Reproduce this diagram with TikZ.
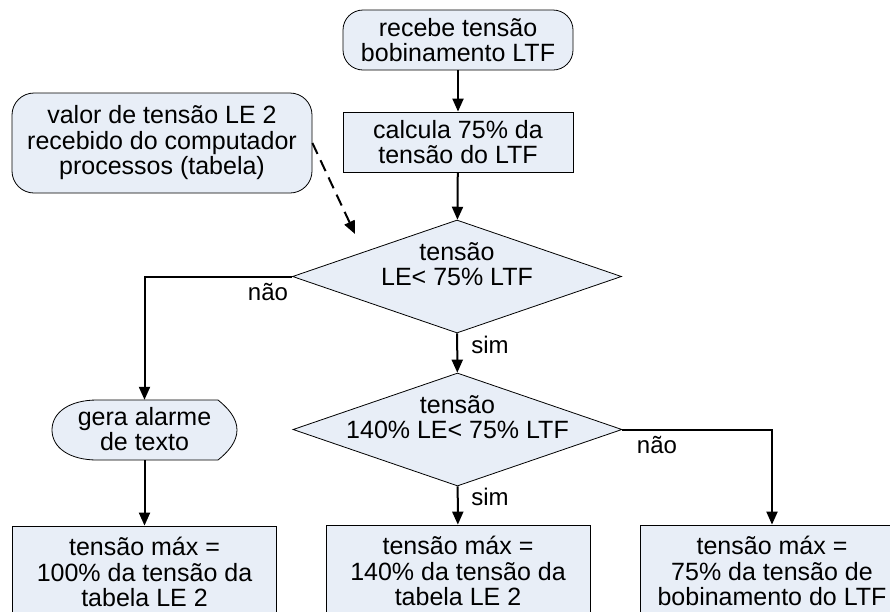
\documentclass[tikz,border=0pt]{standalone}
\usepackage{fontspec}
\setmainfont{Liberation Sans}
\usetikzlibrary{shapes.geometric,arrows.meta}
\definecolor{boxfill}{RGB}{232,238,247}
\tikzset{
  base/.style={draw=black, line width=0.8pt, fill=boxfill, inner sep=0pt, align=center,
    font=\fontsize{25}{25.5}\selectfont},
  procbox/.style={base, rectangle, minimum width=230pt, minimum height=60pt},
  termbox/.style={base, rectangle, rounded corners=20pt, minimum width=230pt, minimum height=60pt},
  notebox/.style={base, rectangle, rounded corners=22pt, minimum width=300pt, minimum height=100pt},
  resbox/.style={base, rectangle, minimum width=264pt, minimum height=92pt},
  decbox/.style={base, diamond, minimum width=329pt, minimum height=113pt},
  txt/.style={inner sep=0pt, align=center, font=\fontsize{25}{25.5}\selectfont},
  lbl/.style={inner sep=0pt, font=\fontsize{24}{25}\selectfont},
  conn/.style={line width=2pt, -{Triangle[length=13pt,width=11pt]}},
  dconn/.style={line width=2pt, dash pattern=on 12pt off 7pt, -{Triangle[length=13pt,width=11pt]}},
}
\begin{document}
\begin{tikzpicture}[x=1pt,y=-1pt]
\path[use as bounding box, clip] (0,0) rectangle (890,611);
\fill[white] (0,0) rectangle (890,611);

\node[termbox] (start) at (458,40) {recebe tensão\\bobinamento LTF};
\node[procbox] (calc) at (458,142) {calcula 75\% da\\tensão do LTF};
\node[notebox] (note) at (162,143) {valor de tensão LE 2\\recebido do computador\\processos (tabela)};

\node[decbox] (d1) at (457,276.5) {};
\node[txt] (d1t) at (457,264) {tensão\\LE< 75\% LTF};
\node[decbox] (d2) at (457.5,429.5) {};
\node[txt] (d2t) at (457.5,417) {tensão\\140\% LE< 75\% LTF};

\node[inner sep=0pt, minimum width=185pt, minimum height=60pt] (alarm) at (144.5,430) {};
\path[base] (97,400) -- (218,400) .. controls (228,408) and (237,418) .. (237,430)
  .. controls (237,442) and (228,452) .. (218,460) -- (97,460)
  .. controls (70,460) and (52,448) .. (52,430) .. controls (52,412) and (70,400) .. (97,400) -- cycle;
\node[txt] (alarmt) at (144.5,429) {gera alarme\\de texto};

\node[resbox] (r1) at (144.5,572) {tensão máx =\\100\% da tensão da\\tabela LE 2};
\node[resbox] (r2) at (458,571) {tensão máx =\\140\% da tensão da\\tabela LE 2};
\node[resbox] (r3) at (772,571) {tensão máx =\\75\% da tensão de\\bobinamento do LTF};

\coordinate (dtip) at (355,234);
\draw[conn] (start) -- (calc);
\draw[conn] (calc) -- (d1);
\draw[dconn] (note.east) -- (dtip);
\draw[conn] (d1.west) -| (alarm.north);
\draw[conn] (d1) -- (d2);
\draw[conn] (alarm.south) -- (r1.north);
\draw[conn] (d2) -- (r2);
\draw[conn] (d2.east) -| (r3.north);

\node[lbl] (l1) at (268,292) {não};
\node[lbl] (l2) at (490,345) {sim};
\node[lbl] (l3) at (490,497) {sim};
\node[lbl] (l4) at (657,445) {não};
\end{tikzpicture}
\end{document}
